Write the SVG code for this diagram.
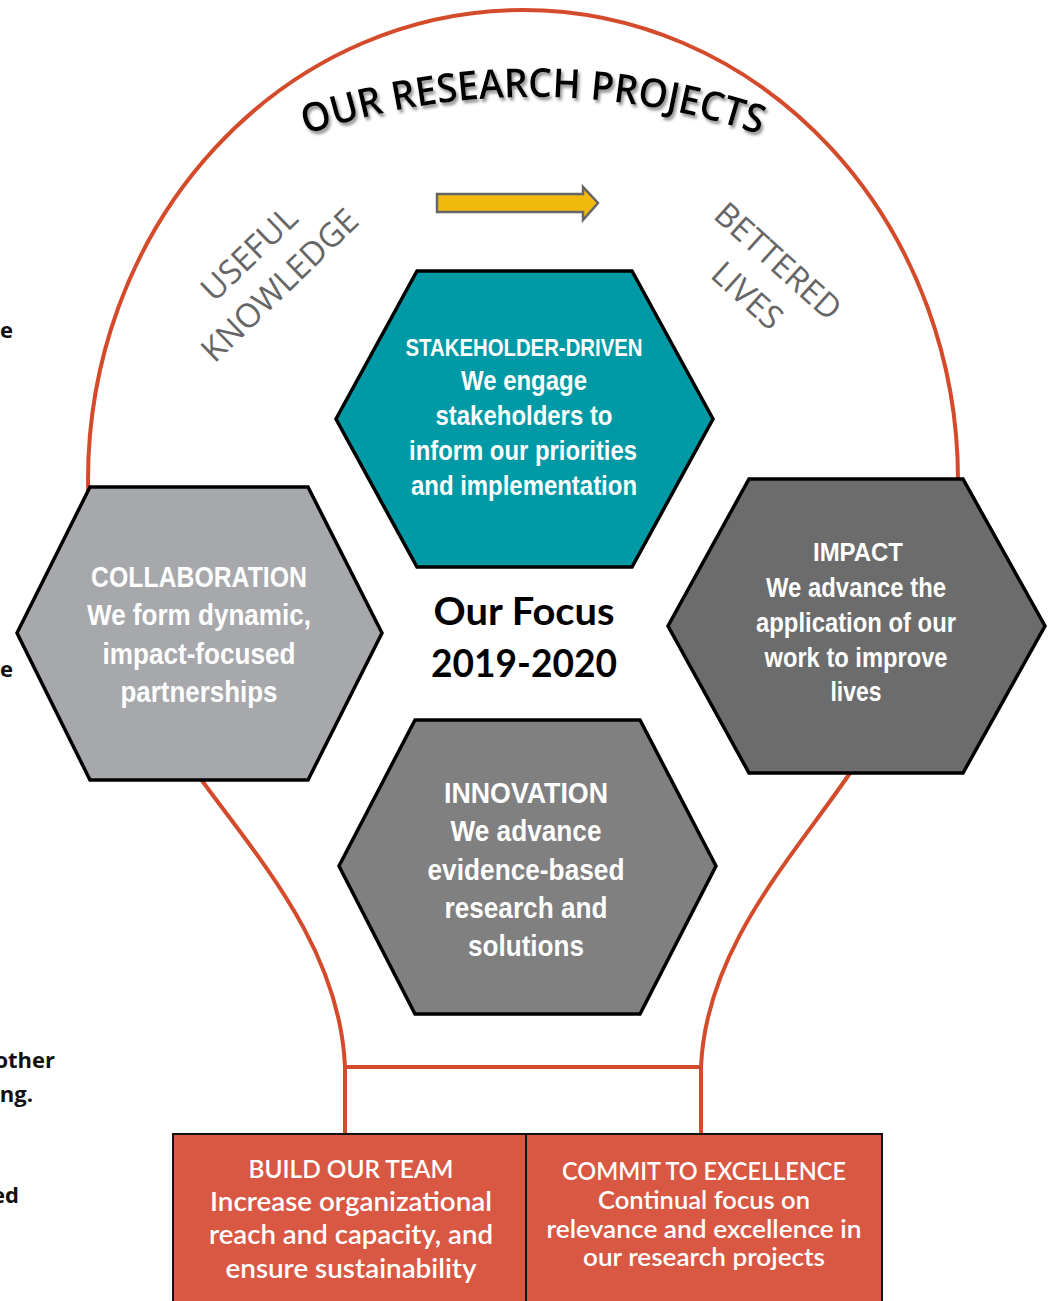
<svg xmlns="http://www.w3.org/2000/svg" width="1054" height="1301" viewBox="0 0 1054 1301">
<style>
.bulb{fill:none;stroke:#D44B2B;stroke-width:4;stroke-linecap:butt}
.hex{stroke:#000;stroke-width:3.5;stroke-linejoin:miter}
.ht{font-family:"Liberation Sans",Arial,sans-serif;font-weight:bold;fill:#fff;text-anchor:middle}
.bt{font-family:Lato,"Open Sans",sans-serif;font-weight:600;fill:#fff;text-anchor:middle}
.diag{font-family:"Open Sans","Noto Sans",sans-serif;fill:#666;text-anchor:middle;font-size:33px}
.cut{font-family:"Open Sans","Noto Sans",sans-serif;font-weight:700;fill:#111;font-size:22px;text-anchor:end}
.box{fill:#D95843;stroke:#111;stroke-width:2}
</style>
<defs>
<path id="arcPath" d="M 273 146.8 A 703 703 0 0 1 793 146.8"/>
<filter id="shadow" x="-10%" y="-30%" width="120%" height="160%">
<feDropShadow dx="2" dy="3" stdDeviation="1.5" flood-color="#777" flood-opacity="0.8"/>
</filter>
</defs>
<rect width="1054" height="1301" fill="#fff"/>

<g id="edge-text">
<text class="cut" x="13" y="338">e</text>
<text class="cut" x="13" y="677">e</text>
<text class="cut" x="55" y="1068">other</text>
<text class="cut" x="33" y="1102">ng.</text>
<text class="cut" x="19" y="1203">ed</text>
</g>

<g id="connectors">
<path class="bulb" d="M 345 1133 L 345 1067 C 340 950 260 860 203 782 C 150 710 88 600 88 480 A 435 470 0 0 1 958 480 C 958 600 900 700 848 776 C 790 860 706 950 701 1067 L 701 1133"/>
<line class="bulb" x1="345" y1="1067" x2="699" y2="1067"/>
</g>

<g id="title">
<text font-family="'Open Sans','Noto Sans',sans-serif" font-weight="600" font-size="40" fill="#000" filter="url(#shadow)"><textPath href="#arcPath" startOffset="50%" text-anchor="middle" textLength="462" lengthAdjust="spacingAndGlyphs">OUR RESEARCH PROJECTS</textPath></text>
</g>

<g id="useful-knowledge" transform="translate(264,269) rotate(-44)">
<text class="diag" x="0" y="-10">USEFUL</text>
<text class="diag" x="0" y="34">KNOWLEDGE</text>
</g>

<g id="bettered-lives" transform="translate(763,278) rotate(42)">
<text class="diag" x="0" y="-11">BETTERED</text>
<text class="diag" x="0" y="35">LIVES</text>
</g>

<g id="arrow">
<polygon points="437,194 583,194 583,187 598,203 583,220 583,212 437,212" fill="#F2B90F" stroke="#666" stroke-width="2.5"/>
</g>

<g id="stakeholder-driven">
<polygon class="hex" fill="#009AA6" points="417,271 632,271 713,419 632,567 417,567 336,419"/>
<text class="ht" x="524" y="356" font-size="24" textLength="237" lengthAdjust="spacingAndGlyphs">STAKEHOLDER-DRIVEN</text>
<text class="ht" x="524" y="390" font-size="27" textLength="126" lengthAdjust="spacingAndGlyphs">We engage</text>
<text class="ht" x="524" y="425" font-size="27" textLength="177" lengthAdjust="spacingAndGlyphs">stakeholders to</text>
<text class="ht" x="523" y="460" font-size="27" textLength="228" lengthAdjust="spacingAndGlyphs">inform our priorities</text>
<text class="ht" x="524" y="495" font-size="27" textLength="226" lengthAdjust="spacingAndGlyphs">and implementation</text>
</g>

<g id="collaboration">
<polygon class="hex" fill="#A7A8AC" points="90,487 308,487 382,633 308,780 90,780 17,633"/>
<text class="ht" x="199" y="587" font-size="29" textLength="216" lengthAdjust="spacingAndGlyphs" fill="#F4F4F4">COLLABORATION</text>
<text class="ht" x="199" y="625" font-size="29" textLength="224" lengthAdjust="spacingAndGlyphs" fill="#F4F4F4">We form dynamic,</text>
<text class="ht" x="199" y="664" font-size="29" textLength="193" lengthAdjust="spacingAndGlyphs" fill="#F4F4F4">impact-focused</text>
<text class="ht" x="199" y="702" font-size="29" textLength="157" lengthAdjust="spacingAndGlyphs" fill="#F4F4F4">partnerships</text>
</g>

<g id="impact">
<polygon class="hex" fill="#6B6C6B" points="749,479 963,479 1045,626 963,773 749,773 668,626"/>
<text class="ht" x="858" y="561" font-size="25" textLength="90" lengthAdjust="spacingAndGlyphs">IMPACT</text>
<text class="ht" x="856" y="597" font-size="27" textLength="180" lengthAdjust="spacingAndGlyphs">We advance the</text>
<text class="ht" x="856" y="632" font-size="27" textLength="200" lengthAdjust="spacingAndGlyphs">application of our</text>
<text class="ht" x="856" y="667" font-size="27" textLength="183" lengthAdjust="spacingAndGlyphs">work to improve</text>
<text class="ht" x="856" y="701" font-size="27" textLength="51" lengthAdjust="spacingAndGlyphs">lives</text>
</g>

<g id="innovation">
<polygon class="hex" fill="#808080" points="415,720 640,720 716,866 640,1014 415,1014 339,866"/>
<text class="ht" x="526" y="803" font-size="29" textLength="164" lengthAdjust="spacingAndGlyphs">INNOVATION</text>
<text class="ht" x="526" y="841" font-size="29" textLength="151" lengthAdjust="spacingAndGlyphs">We advance</text>
<text class="ht" x="526" y="880" font-size="29" textLength="197" lengthAdjust="spacingAndGlyphs">evidence-based</text>
<text class="ht" x="526" y="918" font-size="29" textLength="163" lengthAdjust="spacingAndGlyphs">research and</text>
<text class="ht" x="526" y="956" font-size="29" textLength="116" lengthAdjust="spacingAndGlyphs">solutions</text>
</g>

<g id="our-focus">
<text x="524" y="625" font-family="Lato,'Open Sans',sans-serif" font-weight="700" font-size="38" fill="#000" text-anchor="middle" textLength="181" lengthAdjust="spacingAndGlyphs">Our Focus</text>
<text x="524" y="677" font-family="Lato,'Open Sans',sans-serif" font-weight="700" font-size="38" fill="#000" text-anchor="middle" textLength="186" lengthAdjust="spacingAndGlyphs">2019-2020</text>
</g>

<g id="build-our-team">
<rect class="box" x="173" y="1134" width="353" height="180"/>
<text class="bt" x="351" y="1178" font-size="25" textLength="205" lengthAdjust="spacingAndGlyphs">BUILD OUR TEAM</text>
<text class="bt" x="351" y="1211" font-size="27" textLength="282" lengthAdjust="spacingAndGlyphs">Increase organizational</text>
<text class="bt" x="351" y="1244" font-size="27" textLength="284" lengthAdjust="spacingAndGlyphs">reach and capacity, and</text>
<text class="bt" x="351" y="1278" font-size="27" textLength="251" lengthAdjust="spacingAndGlyphs">ensure sustainability</text>
</g>

<g id="commit-to-excellence">
<rect class="box" x="526" y="1134" width="356" height="180"/>
<text class="bt" x="704" y="1180" font-size="24" textLength="284" lengthAdjust="spacingAndGlyphs">COMMIT TO EXCELLENCE</text>
<text class="bt" x="704" y="1209" font-size="25" textLength="212" lengthAdjust="spacingAndGlyphs">Continual focus on</text>
<text class="bt" x="704" y="1238" font-size="25" textLength="315" lengthAdjust="spacingAndGlyphs">relevance and excellence in</text>
<text class="bt" x="704" y="1266" font-size="25" textLength="242" lengthAdjust="spacingAndGlyphs">our research projects</text>
</g>
</svg>
